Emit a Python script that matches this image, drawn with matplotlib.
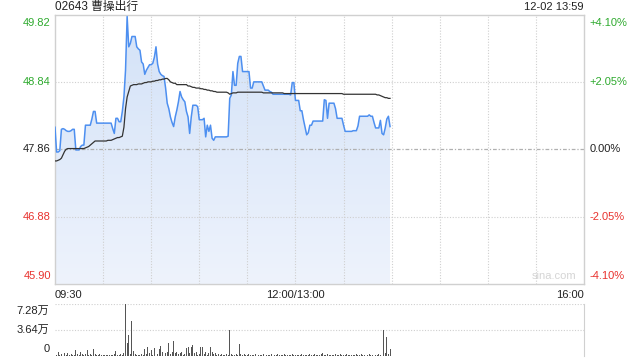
import numpy as np
import matplotlib
matplotlib.use("Agg")
import matplotlib.pyplot as plt
from matplotlib.colors import LinearSegmentedColormap

plt.rcParams['font.family'] = ['Liberation Sans', 'Noto Sans CJK SC', 'DejaVu Sans']

# 每分钟价格 (09:30 起, 午休压缩)
price = [
    48.18, 47.82, 47.82, 47.84, 48.15, 48.16, 48.15, 48.13, 48.12, 48.12,
    48.13, 48.15, 48.15, 47.85, 47.85, 47.85, 47.90, 47.92, 47.92, 48.21,
    48.21, 48.21, 48.21, 48.30, 48.41, 48.41, 48.24, 48.24, 48.24, 48.24,
    48.24, 48.24, 48.24, 48.24, 48.24, 48.24, 48.16, 48.09, 48.31, 48.31,
    48.26, 48.26, 48.41, 48.62, 49.01, 49.79, 49.35, 49.40, 49.50, 49.50,
    49.50, 49.35, 49.32, 49.30, 49.13, 49.10, 48.95, 49.01, 49.05, 49.09,
    49.09, 49.11, 49.20, 49.35, 49.10, 48.99, 48.95, 48.93, 48.92, 48.75,
    48.53, 48.45, 48.33, 48.25, 48.19, 48.33, 48.43, 48.55, 48.70, 48.62,
    48.58, 48.55, 48.41, 48.33, 48.09, 48.33, 48.50, 48.50, 48.50, 48.48,
    48.29, 48.29, 48.29, 48.31, 48.04, 48.21, 48.12, 48.21, 48.02, 47.99,
    48.04, 48.04, 48.04, 48.04, 48.04, 48.04, 48.04, 48.04, 48.05, 48.60,
    48.65, 48.99, 48.79, 48.79, 49.11, 49.21, 49.21, 48.99, 48.99, 48.99,
    48.99, 48.99, 48.75, 48.75, 48.84, 48.84, 48.84, 48.84, 48.84, 48.84,
    48.78, 48.72, 48.72, 48.72, 48.70, 48.69, 48.66, 48.66, 48.66, 48.66,
    48.66, 48.66, 48.66, 48.66, 48.66, 48.66, 48.66, 48.65, 48.83, 48.83,
    48.57, 48.57, 48.57, 48.42, 48.42, 48.29, 48.18, 48.07, 48.10, 48.21,
    48.21, 48.27, 48.27, 48.27, 48.27, 48.27, 48.27, 48.27, 48.58, 48.57,
    48.31, 48.53, 48.53, 48.53, 48.53, 48.45, 48.31, 48.31, 48.31, 48.31,
    48.21, 48.12, 48.12, 48.12, 48.12, 48.12, 48.13, 48.13, 48.13, 48.20,
    48.34, 48.34, 48.34, 48.34, 48.34, 48.34, 48.36, 48.34, 48.34, 48.25,
    48.17, 48.17, 48.17, 48.28, 48.09, 48.07, 48.17, 48.30, 48.34, 48.19,
]

# 均价
avg_price = [
    47.69, 47.69, 47.70, 47.71, 47.73, 47.78, 47.83, 47.86, 47.87, 47.87,
    47.87, 47.87, 47.87, 47.87, 47.87, 47.87, 47.87, 47.87, 47.87, 47.88,
    47.89, 47.90, 47.92, 47.94, 47.96, 47.98, 47.98, 47.98, 47.98, 47.98,
    47.98, 47.98, 47.98, 47.99, 47.99, 47.99, 48.00, 48.01, 48.02, 48.03,
    48.03, 48.04, 48.05, 48.18, 48.45, 48.62, 48.70, 48.78, 48.79, 48.80,
    48.80, 48.80, 48.81, 48.81, 48.81, 48.82, 48.83, 48.83, 48.84, 48.84,
    48.84, 48.85, 48.85, 48.86, 48.86, 48.87, 48.87, 48.88, 48.88, 48.89,
    48.89, 48.87, 48.84, 48.83, 48.82, 48.82, 48.80, 48.80, 48.80, 48.80,
    48.80, 48.80, 48.80, 48.78, 48.78, 48.77, 48.76, 48.76, 48.75, 48.75,
    48.75, 48.74, 48.74, 48.73, 48.73, 48.72, 48.72, 48.71, 48.71, 48.70,
    48.70, 48.69, 48.69, 48.69, 48.69, 48.69, 48.69, 48.69, 48.68, 48.66,
    48.67, 48.68, 48.68, 48.68, 48.69, 48.69, 48.69, 48.69, 48.69, 48.69,
    48.69, 48.69, 48.69, 48.69, 48.69, 48.69, 48.69, 48.69, 48.69, 48.69,
    48.68, 48.68, 48.68, 48.68, 48.68, 48.68, 48.68, 48.68, 48.68, 48.68,
    48.68, 48.68, 48.68, 48.67, 48.67, 48.67, 48.67, 48.67, 48.67, 48.67,
    48.67, 48.67, 48.67, 48.67, 48.67, 48.67, 48.67, 48.67, 48.67, 48.67,
    48.67, 48.67, 48.67, 48.67, 48.67, 48.67, 48.67, 48.67, 48.67, 48.67,
    48.67, 48.67, 48.67, 48.67, 48.67, 48.67, 48.67, 48.67, 48.67, 48.67,
    48.66, 48.66, 48.66, 48.66, 48.66, 48.66, 48.66, 48.66, 48.66, 48.66,
    48.66, 48.66, 48.66, 48.66, 48.66, 48.66, 48.66, 48.66, 48.66, 48.66,
    48.66, 48.65, 48.65, 48.64, 48.63, 48.62, 48.61, 48.61, 48.60, 48.60,
]

# 成交量 (万)
volume = [
    1.1, 0.2, 0.6, 0.2, 0.3, 0.5, 0.4, 0.2, 0.4, 0.2,
    0.3, 0.2, 0.1, 0.8, 0.3, 0.2, 0.5, 0.3, 0.2, 0.3,
    0.8, 0.2, 0.3, 0.2, 1.0, 0.3, 0.2, 0.1, 0.3, 0.2,
    0.1, 0.2, 0.2, 0.1, 0.2, 0.2, 0.1, 0.3, 0.7, 0.2,
    0.1, 0.3, 0.2, 0.4, 7.28, 1.8, 2.9, 0.3, 4.9, 0.7,
    0.3, 0.1, 0.2, 0.2, 0.3, 0.2, 1.0, 0.3, 1.3, 0.4,
    0.8, 0.2, 1.1, 0.6, 0.3, 1.0, 1.4, 0.6, 0.3, 0.4,
    0.5, 1.8, 0.3, 0.5, 2.1, 0.4, 0.6, 0.3, 0.4, 0.5,
    0.2, 0.3, 1.1, 1.2, 0.4, 1.3, 1.5, 0.4, 0.5, 0.2,
    0.3, 1.3, 1.3, 0.3, 0.5, 0.2, 0.4, 1.3, 0.6, 0.3,
    0.4, 0.2, 0.3, 0.2, 0.3, 0.2, 0.2, 0.3, 0.2, 3.64,
    0.3, 0.2, 0.2, 0.3, 0.2, 1.7, 0.3, 0.2, 0.3, 0.1,
    0.2, 0.3, 0.2, 0.1, 0.2, 0.3, 0.2, 0.2, 0.1, 0.2,
    0.3, 0.2, 0.1, 0.2, 0.2, 0.3, 0.1, 0.2, 0.2, 0.3,
    0.2, 0.1, 0.2, 0.3, 0.2, 0.2, 0.1, 0.2, 0.3, 0.2,
    0.2, 0.1, 0.2, 0.2, 0.3, 0.2, 0.2, 0.1, 0.2, 0.3,
    0.2, 0.2, 0.3, 0.2, 0.1, 0.2, 0.3, 0.4, 0.2, 0.2,
    0.3, 0.2, 0.2, 0.1, 0.2, 0.3, 0.2, 0.2, 0.3, 0.2,
    0.1, 0.2, 0.3, 0.2, 0.2, 0.1, 0.2, 0.2, 0.3, 0.2,
    0.2, 0.3, 0.2, 0.2, 0.1, 0.2, 0.3, 0.2, 0.2, 0.3,
    0.2, 0.2, 0.3, 0.2, 0.5, 3.64, 0.4, 2.7, 0.3, 1.0,
]

prev_close = 47.86
price_ticks = [45.90, 46.88, 47.86, 48.84, 49.82]
pct_ticks = ['-4.10%', '-2.05%', '0.00%', '+2.05%', '+4.10%']
tick_colors = ['#e8322e', '#e8322e', '#222222', '#2eaa2e', '#2eaa2e']
vol_ticks = [0, 3.64, 7.28]
vol_labels = ['0', '3.64万', '7.28万']
x_labels = ['09:30', '12:00/13:00', '16:00']
x_label_pos = [0, 150, 330]

minutes = np.arange(len(price))

fig = plt.figure(figsize=(6.4, 3.6), dpi=100)
ax = fig.add_axes([55 / 640, 76 / 360, 529 / 640, 269.5 / 360])
axv = fig.add_axes([55 / 640, 4 / 360, 529 / 640, 52 / 360])

# ---- 分时图 ----
ax.set_xlim(0, 330)
ax.set_ylim(price_ticks[0], price_ticks[-1])
for m in range(30, 330, 30):
    ax.axvline(m, color='#cfcfcf', lw=0.8, ls=(0, (1, 1.5)), zorder=2.5)
for p in price_ticks[1:-1]:
    if p == prev_close:
        ax.axhline(p, color='#b0b0b0', lw=0.9, ls=(0, (3, 1.5, 1, 1.5)), zorder=2.5)
    else:
        ax.axhline(p, color='#cfcfcf', lw=0.8, ls=(0, (1, 1.5)), zorder=2.5)

# 渐变填充
poly = ax.fill_between(minutes, price, price_ticks[0], color='none', lw=0)
cmap = LinearSegmentedColormap.from_list('f', ['#eef3fc', '#d3e2f8'])
grad = np.linspace(0, 1, 256).reshape(-1, 1)
img = ax.imshow(grad, cmap=cmap, aspect='auto', origin='lower',
                extent=[0, 330, price_ticks[0], max(price)], zorder=2)
img.set_clip_path(poly.get_paths()[0], transform=ax.transData)

ax.plot(minutes, price, color='#4d8ff0', lw=1.1, zorder=3)
ax.plot(minutes, avg_price, color='#333333', lw=0.9, zorder=4)

ax.set_xticks([])
ax.set_yticks([])
for s in ax.spines.values():
    s.set_color('#d0d0d0')
    s.set_linewidth(1.0)

for i, (p, pc, c) in enumerate(zip(price_ticks, pct_ticks, tick_colors)):
    va = 'bottom' if i == 0 else ('top' if i == len(price_ticks) - 1 else 'center')
    off = 2.5 if i == 0 else (-2.5 if i == len(price_ticks) - 1 else 0)
    ax.annotate(f'{p:.2f}', xy=(0, p), xycoords=('axes fraction', 'data'),
                xytext=(-3, off), textcoords='offset points',
                ha='right', va=va, fontsize=8, color=c)
    ax.annotate(pc, xy=(1, p), xycoords=('axes fraction', 'data'),
                xytext=(4, off), textcoords='offset points',
                ha='left', va=va, fontsize=8, color=c)

for lab, pos in zip(x_labels, x_label_pos):
    ha = 'left' if pos == 0 else ('right' if pos == 330 else 'center')
    ax.annotate(lab, xy=(pos, 0), xycoords=('data', 'axes fraction'),
                xytext=(0, -4), textcoords='offset points',
                ha=ha, va='top', fontsize=8, color='#222222')

ax.annotate('02643 曹操出行', xy=(0, 1), xycoords='axes fraction',
            xytext=(0, 5.5), textcoords='offset points',
            ha='left', va='center', fontsize=8.5, color='#222222')
ax.annotate('12-02 13:59', xy=(1, 1), xycoords='axes fraction',
            xytext=(0, 5.5), textcoords='offset points',
            ha='right', va='center', fontsize=8, color='#222222')
ax.text(0.985, 0.012, 'sina.com', transform=ax.transAxes,
        ha='right', va='bottom', fontsize=8, color='#d5d5d5')

# ---- 成交量 ----
axv.set_xlim(0, 330)
axv.set_ylim(0, vol_ticks[-1])
for v in vol_ticks[1:]:
    axv.axhline(v, color='#cfcfcf', lw=0.8, ls=(0, (1, 1.5)), zorder=1)
axv.bar(minutes, volume, width=0.6, color='#555555', zorder=2)
axv.set_xticks([])
axv.set_yticks([])
for k, s in axv.spines.items():
    s.set_color('#d0d0d0')
    s.set_visible(k == 'right')

for i, (v, lab) in enumerate(zip(vol_ticks, vol_labels)):
    va = 'bottom' if i == 0 else ('top' if i == len(vol_ticks) - 1 else 'center')
    off = 1.5 if i == 0 else (-1.5 if i == len(vol_ticks) - 1 else 0)
    axv.annotate(lab, xy=(0, v), xycoords=('axes fraction', 'data'),
                 xytext=(-4, off), textcoords='offset points',
                 ha='right', va=va, fontsize=8, color='#222222')

fig.savefig('out.png', dpi=100)
